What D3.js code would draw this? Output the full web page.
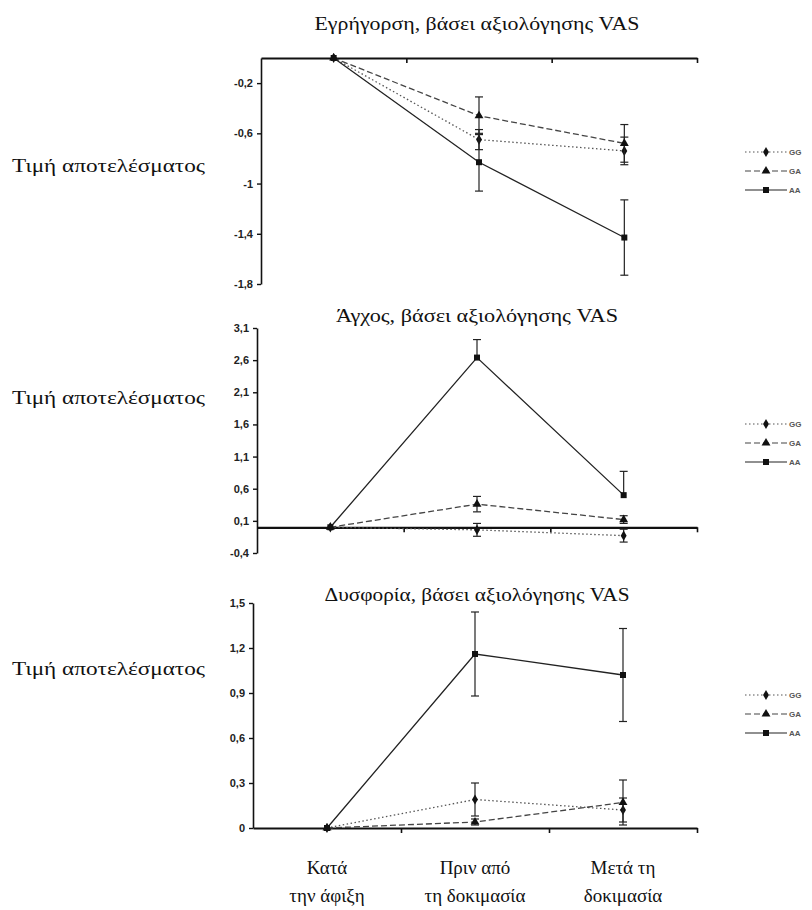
<!DOCTYPE html>
<html>
<head>
<meta charset="utf-8">
<script src="https://cdn.jsdelivr.net/npm/d3@7/dist/d3.min.js"></script>
<style>
  body { margin: 0; background: #fff; }
  .tick text { font-family: "Liberation Sans", Arial, sans-serif; font-weight: bold; font-size: 11px; fill: #222; }
</style>
</head>
<body>
<svg id="chart" width="812" height="910"></svg>
<script>
// categories (x) and series names
const categories = [["Κατά", "την άφιξη"], ["Πριν από", "τη δοκιμασία"], ["Μετά τη", "δοκιμασία"]];
const seriesNames = ["GG", "GA", "AA"];
const titles = ["Εγρήγορση, βάσει αξιολόγησης VAS", "Άγχος, βάσει αξιολόγησης VAS", "Δυσφορία, βάσει αξιολόγησης VAS"];
const yLabel = "Τιμή αποτελέσματος";

// Εγρήγορση
const alertGG = [0, -0.65, -0.74];
const alertGA = [0, -0.46, -0.68];
const alertAA = [0, -0.83, -1.43];
const alertGGErr = [0, 0.08, 0.11];
const alertGAErr = [0, 0.15, 0.15];
const alertAAErr = [0, 0.23, 0.3];
const alertTicks = [-0.2, -0.6, -1, -1.4, -1.8];

// Άγχος
const anxGG = [0, -0.04, -0.13];
const anxGA = [0, 0.36, 0.12];
const anxAA = [0, 2.64, 0.5];
const anxGGErr = [0, 0.1, 0.1];
const anxGAErr = [0, 0.12, 0.06];
const anxAAErrUp = [0, 0.28, 0.37];
const anxAAErrDown = [0, 0, 0];
const anxTicks = [3.1, 2.6, 2.1, 1.6, 1.1, 0.6, 0.1, -0.4];

// Δυσφορία
const dysGG = [0, 0.19, 0.12];
const dysGA = [0, 0.04, 0.17];
const dysAA = [0, 1.16, 1.02];
const dysGGErr = [0, 0.11, 0.08];
const dysGAErr = [0, 0.02, 0.15];
const dysAAErr = [0, 0.28, 0.31];
const dysTicks = [0, 0.3, 0.6, 0.9, 1.2, 1.5];

let svg = d3.select("#chart");
let fmt = v => String(v).replace(".", ",");
let serif = "'Liberation Serif', 'DejaVu Serif', 'Times New Roman', Times, serif";

let panels = [
  { domain: [0, -1.8], range: [58, 284], left: 261, ticks: alertTicks,
    series: [[alertGG, alertGGErr, alertGGErr], [alertGA, alertGAErr, alertGAErr], [alertAA, alertAAErr, alertAAErr]],
    titleY: 30, titleW: 325, labelY: 172, legendY: 152 },
  { domain: [-0.4, 3.1], range: [553, 328], left: 257, ticks: anxTicks,
    series: [[anxGG, anxGGErr, anxGGErr], [anxGA, anxGAErr, anxGAErr], [anxAA, anxAAErrUp, anxAAErrDown]],
    titleY: 322, titleW: 282, labelY: 404, legendY: 424 },
  { domain: [0, 1.5], range: [828, 603], left: 253, ticks: dysTicks,
    series: [[dysGG, dysGGErr, dysGGErr], [dysGA, dysGAErr, dysGAErr], [dysAA, dysAAErr, dysAAErr]],
    titleY: 601, titleW: 305, labelY: 675, legendY: 695 }
];

let styles = [
  { dash: "1.5,2.5", color: "#555", symbol: d3.symbolDiamond, size: 30 },
  { dash: "6,3", color: "#444", symbol: d3.symbolTriangle, size: 34 },
  { dash: null, color: "#222", symbol: d3.symbolSquare, size: 36 }
];

let right = 697;

panels.forEach(function(p, pi) {
  let g = svg.append("g");
  let y = d3.scaleLinear().domain(p.domain).range(p.range);
  let x = d3.scaleLinear().domain([0, 3]).range([p.left, right]);
  let cx = i => x(i + 0.5);

  // title
  g.append("text")
    .style("font-family", serif).attr("fill", "#111")
    .attr("x", 477).attr("y", p.titleY)
    .attr("text-anchor", "middle")
    .attr("font-size", 18)
    .attr("textLength", p.titleW).attr("lengthAdjust", "spacingAndGlyphs")
    .text(titles[pi]);

  // y label
  g.append("text")
    .style("font-family", serif).attr("fill", "#111")
    .attr("x", 12).attr("y", p.labelY)
    .attr("font-size", 19)
    .attr("textLength", 193).attr("lengthAdjust", "spacingAndGlyphs")
    .text(yLabel);

  // y axis
  let yAxis = g.append("g")
    .attr("transform", `translate(${p.left},0)`)
    .call(d3.axisLeft(y).tickValues(p.ticks).tickSize(4).tickSizeOuter(0).tickPadding(4).tickFormat(fmt));
  yAxis.select(".domain").attr("stroke", "#111").attr("stroke-width", 1.6);
  yAxis.selectAll(".tick line").attr("stroke", "#111").attr("stroke-width", 1.4);

  // x axis at zero
  let xAxis = g.append("g")
    .attr("transform", `translate(0,${y(0)})`)
    .call(d3.axisBottom(x).tickValues([1, 2, 3]).tickSize(5).tickSizeOuter(0).tickFormat(""));
  xAxis.select(".domain").attr("stroke", "#111").attr("stroke-width", 2.2);
  xAxis.selectAll(".tick line").attr("stroke", "#111").attr("stroke-width", 1.6);

  // series
  p.series.forEach(function(s, si) {
    let vals = s[0], errUp = s[1], errDown = s[2];
    let st = styles[si];
    let pts = vals.map((v, i) => ({ i: i, v: v, up: errUp[i], down: errDown[i] }));

    let line = d3.line().x(d => cx(d.i)).y(d => y(d.v));
    g.append("path").datum(pts)
      .attr("d", line)
      .attr("fill", "none")
      .attr("stroke", st.color)
      .attr("stroke-width", 1.3)
      .attr("stroke-dasharray", st.dash);

    let eb = g.selectAll(null).data(pts.filter(d => d.up > 0 || d.down > 0)).enter().append("g")
      .attr("stroke", "#222").attr("stroke-width", 1.2);
    eb.append("line")
      .attr("x1", d => cx(d.i)).attr("x2", d => cx(d.i))
      .attr("y1", d => y(d.v + d.up)).attr("y2", d => y(d.v - d.down));
    eb.filter(d => d.up > 0).append("line")
      .attr("x1", d => cx(d.i) - 4).attr("x2", d => cx(d.i) + 4)
      .attr("y1", d => y(d.v + d.up)).attr("y2", d => y(d.v + d.up));
    eb.filter(d => d.down > 0).append("line")
      .attr("x1", d => cx(d.i) - 4).attr("x2", d => cx(d.i) + 4)
      .attr("y1", d => y(d.v - d.down)).attr("y2", d => y(d.v - d.down));

    g.selectAll(null).data(pts).enter().append("path")
      .attr("d", d3.symbol().type(st.symbol).size(st.size))
      .attr("transform", d => `translate(${cx(d.i)},${y(d.v)})`)
      .attr("fill", "#111");
  });

  // legend
  let lg = g.append("g").attr("transform", `translate(745,${p.legendY})`);
  styles.forEach(function(st, si) {
    let row = lg.append("g").attr("transform", `translate(0,${si * 19})`);
    row.append("line").attr("x1", 0).attr("x2", 42).attr("y1", 0).attr("y2", 0)
      .attr("stroke", st.color).attr("stroke-width", 1.2).attr("stroke-dasharray", st.dash);
    row.append("path").attr("d", d3.symbol().type(st.symbol).size(st.size))
      .attr("transform", "translate(21,0)").attr("fill", "#111");
    row.append("text").attr("x", 44).attr("y", 3)
      .attr("font-family", "Liberation Sans, Arial, sans-serif")
      .attr("font-weight", "bold").attr("font-size", 8).attr("fill", "#555")
      .text(seriesNames[si]);
  });
});

// category labels under the last panel
let xLast = d3.scaleLinear().domain([0, 3]).range([panels[2].left, right]);
categories.forEach(function(c, i) {
  let t = svg.append("text").style("font-family", serif).attr("fill", "#111")
    .attr("x", xLast(i + 0.5)).attr("text-anchor", "middle").attr("font-size", 19);
  t.append("tspan").attr("x", xLast(i + 0.5)).attr("y", 874).text(c[0]);
  t.append("tspan").attr("x", xLast(i + 0.5)).attr("y", 902).text(c[1]);
});
</script>
</body>
</html>
